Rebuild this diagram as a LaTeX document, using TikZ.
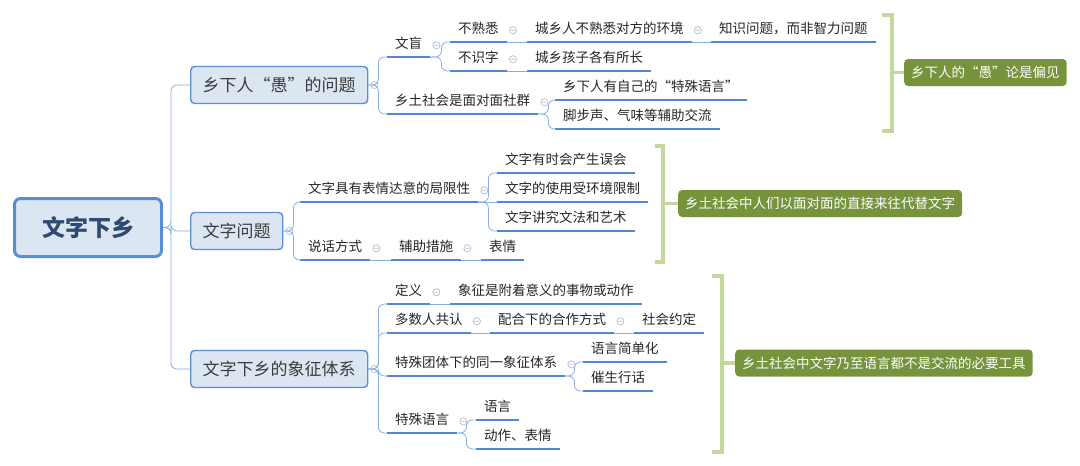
\documentclass[tikz,border=0pt]{standalone}
\usepackage{fontspec}
\setmainfont{Noto Sans CJK SC}
\definecolor{topicfill}{HTML}{DCE6F2}
\definecolor{topicline}{HTML}{5B8DD6}
\definecolor{linkblue}{HTML}{88AEE2}
\definecolor{ulblue}{HTML}{5389D4}
\definecolor{foldgray}{HTML}{AEBDD3}
\definecolor{leaftext}{HTML}{262626}
\definecolor{roottext}{HTML}{2E4A73}
\definecolor{sumfill}{HTML}{77933C}
\definecolor{brgreen}{HTML}{C4D79C}
\tikzset{
  rootbox/.style={draw=topicline, fill=topicfill, line width=3pt, rounded corners=6pt,
    minimum width=147pt, minimum height=58pt, text=roottext,
    font=\fontsize{23}{26}\selectfont\bfseries},
  topic/.style={draw=topicline, fill=topicfill, line width=1.4pt, rounded corners=4pt,
    anchor=west, inner xsep=12pt, minimum height=37pt, text=leaftext!90,
    font=\fontsize{17}{20}\selectfont},
  leaf/.style={anchor=south west, inner xsep=8pt, inner ysep=5pt, text height=10pt,
    text depth=3pt, text=leaftext, font=\fontsize{13.5}{16}\selectfont},
  underl/.style={draw=ulblue, line width=2.4pt},
  link/.style={draw=linkblue, line width=0.8pt, rounded corners=6pt},
  foldmark/.style={draw=foldgray, line width=0.7pt},
  summary/.style={fill=sumfill, rounded corners=4pt, anchor=west, inner xsep=7pt,
    minimum height=27pt, text=white, font=\fontsize{13.5}{16}\selectfont},
  bracket/.style={draw=brgreen, line width=3.5pt}
}
\newcommand{\fold}[1]{\draw[foldmark] ([xshift=6pt]#1.east) circle[radius=3.6pt] ++(-2pt,0) -- ++(4pt,0);}

\begin{document}
\begin{tikzpicture}[x=1pt, y=-1pt]
  \useasboundingbox (0,0) rectangle (1080,466);

  \node[rootbox] (root) at (88,227.5) {文字下乡};
  \node[topic] (m1) at (190,85) {乡下人“愚”的问题};
  \node[topic] (m2) at (190,231) {文字问题};
  \node[topic] (m3) at (190,369) {文字下乡的象征体系};
  \draw[link] (root.east) -- ++(8,0) |- (m1.west);
  \draw[link] (root.east) -- ++(8,0) |- (m2.west);
  \draw[link] (root.east) -- ++(8,0) |- (m3.west);

  \node[leaf] (wm) at (387,57) {文盲};
  \node[leaf] (bsx) at (450,42) {不熟悉};
  \node[leaf] (csr) at (527,42) {城乡人不熟悉对方的环境};
  \node[leaf] (zsw) at (711,42) {知识问题，而非智力问题};
  \node[leaf] (bsz) at (450,71) {不识字};
  \node[leaf] (cxh) at (527,71) {城乡孩子各有所长};
  \node[leaf] (xts) at (387,114) {乡土社会是面对面社群};
  \node[leaf] (tsy) at (555,100) {乡下人有自己的“特殊语言”};
  \node[leaf] (jbs) at (555,129) {脚步声、气味等辅助交流};
  \draw[link] (m1.east) -- ++(10,0) |- (wm.south west);
  \draw[link] (m1.east) -- ++(10,0) |- (xts.south west);
  \draw[link] (wm.south east) -- ++(11,0) |- (bsx.south west);
  \draw[link] (wm.south east) -- ++(11,0) |- (bsz.south west);
  \draw[link] (bsx.south east) -- (csr.south west);
  \draw[link] (csr.south east) -- (zsw.south west);
  \draw[link] (bsz.south east) -- (cxh.south west);
  \draw[link] (xts.south east) -- ++(10,0) |- (tsy.south west);
  \draw[link] (xts.south east) -- ++(10,0) |- (jbs.south west);

  \node[leaf] (jx) at (300,202) {文字具有表情达意的局限性};
  \node[leaf] (wy) at (497,173) {文字有时会产生误会};
  \node[leaf] (hj) at (497,202) {文字的使用受环境限制};
  \node[leaf] (wf) at (497,231) {文字讲究文法和艺术};
  \node[leaf] (sh) at (300,260) {说话方式};
  \node[leaf] (fz) at (391,260) {辅助措施};
  \node[leaf] (bq) at (481,260) {表情};
  \draw[link] (m2.east) -- ++(10,0) |- (jx.south west);
  \draw[link] (m2.east) -- ++(10,0) |- (sh.south west);
  \draw[link] (jx.south east) -- ++(10,0) |- (wy.south west);
  \draw[link] (jx.south east) -- (hj.south west);
  \draw[link] (jx.south east) -- ++(10,0) |- (wf.south west);
  \draw[link] (sh.south east) -- (fz.south west);
  \draw[link] (fz.south east) -- (bq.south west);

  \node[leaf] (dy) at (387,304) {定义};
  \node[leaf] (xz) at (450,304) {象征是附着意义的事物或动作};
  \node[leaf] (gr) at (387,333) {多数人共认};
  \node[leaf] (ph) at (490,333) {配合下的合作方式};
  \node[leaf] (yd) at (634,333) {社会约定};
  \node[leaf] (tt) at (387,376) {特殊团体下的同一象征体系};
  \node[leaf] (jd) at (583,362) {语言简单化};
  \node[leaf] (hh) at (583,391) {催生行话};
  \node[leaf] (ty) at (387,433) {特殊语言};
  \node[leaf] (yy) at (476,420) {语言};
  \node[leaf] (dz) at (476,449) {动作、表情};
  \draw[link] (m3.east) -- ++(10,0) |- (dy.south west);
  \draw[link] (m3.east) -- ++(10,0) |- (gr.south west);
  \draw[link] (m3.east) -- ++(10,0) |- (tt.south west);
  \draw[link] (m3.east) -- ++(10,0) |- (ty.south west);
  \draw[link] (dy.south east) -- (xz.south west);
  \draw[link] (gr.south east) -- (ph.south west);
  \draw[link] (ph.south east) -- (yd.south west);
  \draw[link] (tt.south east) -- ++(9,0) |- (jd.south west);
  \draw[link] (tt.south east) -- ++(9,0) |- (hh.south west);
  \draw[link] (ty.south east) -- ++(9,0) |- (yy.south west);
  \draw[link] (ty.south east) -- ++(9,0) |- (dz.south west);

  \foreach \n in {wm,bsx,csr,zsw,bsz,cxh,xts,tsy,jbs,jx,wy,hj,wf,sh,fz,bq,
                  dy,xz,gr,ph,yd,tt,jd,hh,ty,yy,dz}
    \draw[underl] (\n.south west) -- (\n.south east);

  \foreach \n in {m1,m2,m3,wm,bsx,bsz,csr,xts,jx,sh,fz,dy,gr,ph,tt,ty}
    {\fold{\n}}

  \node[summary] (s1) at (904,72.5) {乡下人的“愚”论是偏见};
  \node[summary] (s2) at (678,203.5) {乡土社会中人们以面对面的直接来往代替文字};
  \node[summary] (s3) at (735,363) {乡土社会中文字乃至语言都不是交流的必要工具};
  \coordinate (b1) at (892,72.5);
  \coordinate (b2) at (663,203.5);
  \coordinate (b3) at (722,363);
  \draw[bracket] (882,15) -- (892,15) -- (892,131) -- (882,131);
  \draw[bracket] (655,146) -- (663,146) -- (663,262) -- (655,262);
  \draw[bracket] (712,276) -- (722,276) -- (722,452) -- (712,452);
  \draw[bracket] (b1) -- (s1.west);
  \draw[bracket] (b2) -- (s2.west);
  \draw[bracket] (b3) -- (s3.west);
\end{tikzpicture}
\end{document}
